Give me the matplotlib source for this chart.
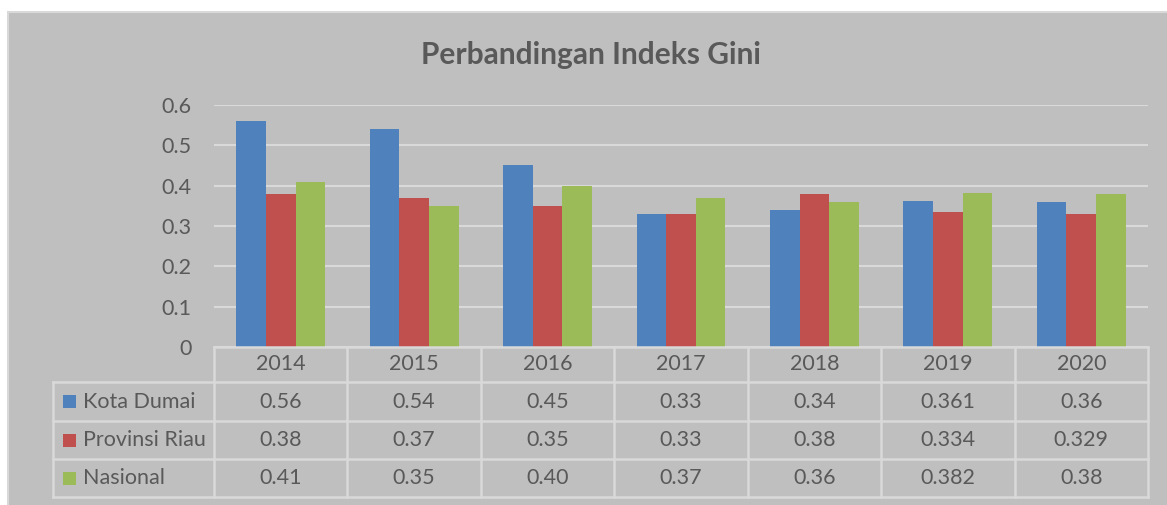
import matplotlib
matplotlib.use("Agg")
import matplotlib.pyplot as plt
from matplotlib.patches import Rectangle

# ---- data ----
years = ["2014", "2015", "2016", "2017", "2018", "2019", "2020"]
series_names = ["Kota Dumai", "Provinsi Riau", "Nasional"]
kota_dumai = [0.56, 0.54, 0.45, 0.33, 0.34, 0.361, 0.36]
provinsi_riau = [0.38, 0.37, 0.35, 0.33, 0.38, 0.334, 0.329]
nasional = [0.41, 0.35, 0.40, 0.37, 0.36, 0.382, 0.38]
y_ticks = [0, 0.1, 0.2, 0.3, 0.4, 0.5, 0.6]
y_tick_labels = ["0", "0.1", "0.2", "0.3", "0.4", "0.5", "0.6"]
title = "Perbandingan Indeks Gini"

series = [kota_dumai, provinsi_riau, nasional]
colors = ["#4F81BD", "#C0504D", "#9BBB59"]
text_color = "#595959"
grid_color = "#D9D9D9"
bg_color = "#BFBFBF"

plt.rcParams['font.family'] = ['Lato', 'DejaVu Sans']

W, H = 1167, 505
fig = plt.figure(figsize=(W / 100, H / 100), dpi=100, facecolor="white")

# chart area background
fig.patches.append(Rectangle((8 / W, -0.01), (W - 8) / W + 0.01, (H - 12) / H + 0.01,
                             transform=fig.transFigure, facecolor=bg_color,
                             edgecolor=grid_color, linewidth=1.5, zorder=-10))

# plot area in pixels
x0, x1 = 214, 1148
y_top, y_zero = 105, 347
ax = fig.add_axes([x0 / W, (H - y_zero) / H, (x1 - x0) / W, (y_zero - y_top) / H])
ax.set_facecolor("none")
n = len(years)
xs = list(range(n))
bw = 0.222
for k, (vals, c) in enumerate(zip(series, colors)):
    ax.bar([x + (k - 1) * bw for x in xs], vals, width=bw, color=c, zorder=3, linewidth=0)
ax.set_xlim(-0.5, n - 0.5)
ax.set_ylim(0, 0.6)
ax.set_yticks(y_ticks)
ax.set_yticklabels(y_tick_labels, fontsize=15.5, color=text_color)
ax.set_xticks([])
ax.tick_params(axis='y', length=0, pad=16)
for s in ax.spines.values():
    s.set_visible(False)
ax.grid(axis='y', color=grid_color, linewidth=1.5, zorder=0)
ax.set_axisbelow(True)

fig.text(591 / W, 1 - 55 / H, title, ha="center", va="center", fontsize=21.5,
         fontweight="bold", color=text_color)

# data table
t_bottom = 497
tax = fig.add_axes([x0 / W, (H - t_bottom) / H, (x1 - x0) / W, (t_bottom - y_zero) / H])
tax.set_xlim(-0.5, n - 0.5)
tax.set_ylim(t_bottom - y_zero, 0)
tax.axis("off")
cat_w = (x1 - x0) / n


def px2x(px):
    return (px - x0) / cat_w - 0.5


rows = [0, 35, 74, 112, 150]
left_x = px2x(53)
lkw = dict(color=grid_color, linewidth=1.8, clip_on=False, solid_capstyle="projecting")
tax.plot([-0.5, n - 0.5], [rows[0], rows[0]], **lkw)
for r in rows[1:]:
    tax.plot([left_x, n - 0.5], [r, r], **lkw)
for k in range(n + 1):
    tax.plot([k - 0.5, k - 0.5], [rows[0], rows[-1]], **lkw)
tax.plot([left_x, left_x], [rows[1], rows[-1]], **lkw)


def fmt(v):
    s = f"{v:.3f}".rstrip("0")
    ip, dp = s.split(".")
    return ip + "." + dp.ljust(2, "0")


fs = 15.5
for i, y in enumerate(years):
    tax.text(i, (rows[0] + rows[1]) / 2, y, ha="center", va="center",
             fontsize=fs, color=text_color)
for r, (name, vals, c) in enumerate(zip(series_names, series, colors)):
    yc = (rows[r + 1] + rows[r + 2]) / 2
    tax.add_patch(Rectangle((px2x(63), yc - 6.5), px2x(76) - px2x(63), 13,
                            facecolor=c, edgecolor="none", clip_on=False))
    tax.text(px2x(83), yc, name, ha="left", va="center", fontsize=fs,
             color=text_color, clip_on=False)
    for i, v in enumerate(vals):
        tax.text(i, yc, fmt(v), ha="center", va="center", fontsize=fs, color=text_color)

fig.savefig("out.png", dpi=100, facecolor="white")
